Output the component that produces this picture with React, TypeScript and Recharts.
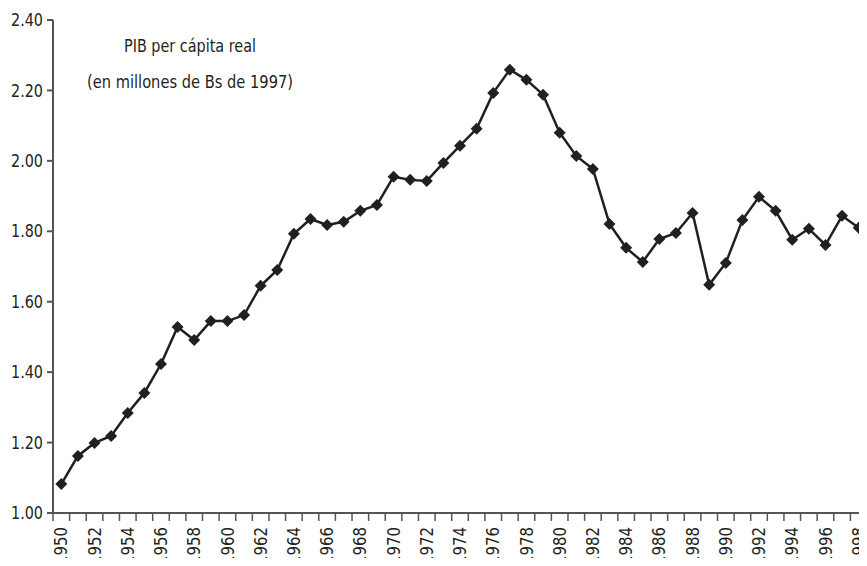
import React from 'react';
import { LineChart, Line, XAxis, YAxis } from 'recharts';

const years = [
  1950, 1951, 1952, 1953, 1954, 1955, 1956, 1957, 1958, 1959,
  1960, 1961, 1962, 1963, 1964, 1965, 1966, 1967, 1968, 1969,
  1970, 1971, 1972, 1973, 1974, 1975, 1976, 1977, 1978, 1979,
  1980, 1981, 1982, 1983, 1984, 1985, 1986, 1987, 1988, 1989,
  1990, 1991, 1992, 1993, 1994, 1995, 1996, 1997, 1998,
];

const pibPerCapita = [
  1.082, 1.162, 1.199, 1.219, 1.284, 1.341, 1.423, 1.528, 1.491, 1.545,
  1.545, 1.562, 1.645, 1.69, 1.793, 1.835, 1.818, 1.827, 1.858, 1.875,
  1.955, 1.946, 1.943, 1.994, 2.043, 2.091, 2.193, 2.259, 2.23, 2.188,
  2.08, 2.014, 1.977, 1.821, 1.753, 1.713, 1.778, 1.795, 1.852, 1.648,
  1.71, 1.832, 1.898, 1.858, 1.776, 1.807, 1.761, 1.844, 1.81,
];

const yTicks = [1.0, 1.2, 1.4, 1.6, 1.8, 2.0, 2.2, 2.4];

const titleLines = ['PIB per cápita real', '(en millones de Bs de 1997)'];

const data = years.map((y, i) => ({ year: y, value: pibPerCapita[i] }));

const FONT = "'DejaVu Sans', sans-serif";
const INK = '#231f20';
const AXIS = '#555555';

const WIDTH = 867;
const HEIGHT = 566;
const LEFT = 53;
const BAND = (WIDTH - LEFT) / years.length;

const Diamond = (props: any) => {
  const { cx, cy } = props;
  if (cx == null || cy == null) return null;
  const r = 6;
  return (
    <polygon
      points={`${cx},${cy - r} ${cx + r},${cy} ${cx},${cy + r} ${cx - r},${cy}`}
      fill={INK}
    />
  );
};

// tick marks sit between categories (hanging below the axis), labels on every other year
const YearTick = (props: any) => {
  const { x, y, payload } = props;
  const yr = Number(payload.value);
  const left = x - BAND / 2;
  const ty = y + 14;
  return (
    <g>
      <line x1={left} y1={y} x2={left} y2={y + 8} stroke={AXIS} strokeWidth={1.5} />
      {yr % 2 === 0 && (
        <text
          x={x}
          y={ty}
          transform={`rotate(-90, ${x}, ${ty})`}
          textAnchor="end"
          dy="0.36em"
          fontSize={17}
          fontFamily={FONT}
          fill={INK}
          textLength={38}
          lengthAdjust="spacingAndGlyphs"
        >
          {yr}
        </text>
      )}
    </g>
  );
};

const ValueTick = (props: any) => {
  const { x, y, payload } = props;
  return (
    <text
      x={x - 2}
      y={y}
      dy="0.36em"
      textAnchor="end"
      fontSize={17}
      fontFamily={FONT}
      fill={INK}
      textLength={32}
      lengthAdjust="spacingAndGlyphs"
    >
      {Number(payload.value).toFixed(2)}
    </text>
  );
};

export default function App() {
  return (
    <div style={{ margin: -8, width: WIDTH, height: HEIGHT, background: '#fff', overflow: 'hidden' }}>
      <LineChart
        width={WIDTH}
        height={HEIGHT}
        data={data}
        margin={{ top: 20, right: 0, bottom: 0, left: 0 }}
      >
        <XAxis
          dataKey="year"
          scale="band"
          interval={0}
          height={53}
          tickLine={false}
          tick={<YearTick />}
          stroke={AXIS}
          strokeWidth={2}
          tickSize={0}
          tickMargin={0}
        />
        <YAxis
          domain={[1.0, 2.4]}
          ticks={yTicks}
          width={LEFT}
          stroke={AXIS}
          strokeWidth={2}
          tickSize={6}
          tick={<ValueTick />}
        />
        <Line
          type="linear"
          dataKey="value"
          stroke={INK}
          strokeWidth={2.5}
          dot={<Diamond />}
          activeDot={false}
          isAnimationActive={false}
        />
        <text x={190} y={52} textAnchor="middle" fontSize={17} fontFamily={FONT} fill={INK}
          textLength={132} lengthAdjust="spacingAndGlyphs">
          {titleLines[0]}
        </text>
        <text x={190} y={88} textAnchor="middle" fontSize={17} fontFamily={FONT} fill={INK}
          textLength={206} lengthAdjust="spacingAndGlyphs">
          {titleLines[1]}
        </text>
      </LineChart>
    </div>
  );
}
